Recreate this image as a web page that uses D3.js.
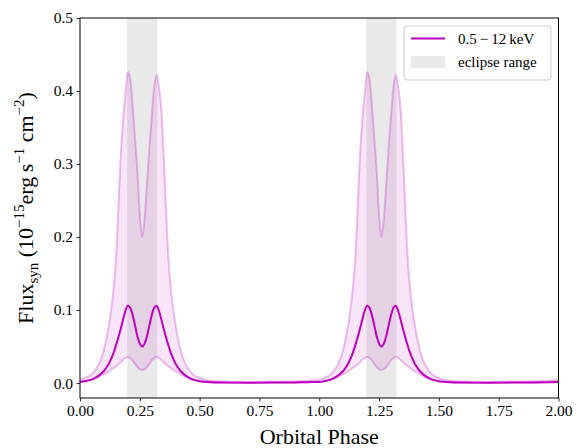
<!DOCTYPE html>
<html>
<head>
<meta charset="utf-8">
<script src="https://cdn.jsdelivr.net/npm/d3@7"></script>
<style>
  body { margin: 0; background: #fff; }
</style>
</head>
<body>
<div id="chart"></div>
<script>
// phase grid of one orbit (the light curve repeats every orbit)
var phase = [0, 0.02, 0.04, 0.06, 0.08, 0.09, 0.10, 0.11, 0.12, 0.13, 0.14, 0.15, 0.16, 0.17, 0.18, 0.19,
  0.20, 0.21, 0.22, 0.23, 0.24, 0.25, 0.26, 0.27, 0.28, 0.29, 0.30, 0.31, 0.32, 0.33, 0.34, 0.35, 0.36,
  0.37, 0.38, 0.39, 0.40, 0.41, 0.42, 0.43, 0.44, 0.46, 0.48, 0.50, 0.52, 0.55, 0.60, 0.70, 0.80, 0.90, 0.95];

// synthetic flux, 0.5-12 keV (1e-15 erg/s/cm2)
var fluxMid = [0.0015, 0.0025, 0.0040, 0.0065, 0.0105, 0.0135, 0.0165, 0.021, 0.026, 0.033, 0.041, 0.051, 0.062, 0.074, 0.087, 0.099,
  0.106, 0.103, 0.093, 0.079, 0.064, 0.054, 0.050, 0.054, 0.064, 0.079, 0.093, 0.103, 0.106, 0.099, 0.087, 0.074, 0.062,
  0.051, 0.041, 0.033, 0.026, 0.021, 0.0165, 0.0135, 0.0105, 0.0065, 0.0040, 0.0025, 0.0018, 0.0012, 0.0008, 0.0005, 0.0006, 0.0009, 0.0012];

var fluxHigh = [0.0045, 0.007, 0.010, 0.016, 0.027, 0.035, 0.046, 0.060, 0.078, 0.100, 0.128, 0.168, 0.235, 0.310, 0.360, 0.395,
  0.426, 0.416, 0.380, 0.335, 0.290, 0.230, 0.200, 0.225, 0.272, 0.322, 0.365, 0.405, 0.422, 0.405, 0.375, 0.310, 0.235,
  0.168, 0.128, 0.100, 0.078, 0.060, 0.046, 0.035, 0.027, 0.016, 0.010, 0.007, 0.0045, 0.0032, 0.0022, 0.0015, 0.0016, 0.0024, 0.0032];

var fluxLow = [0.0015, 0.0025, 0.0040, 0.0062, 0.0090, 0.0105, 0.0122, 0.0140, 0.0160, 0.0182, 0.0205, 0.0230, 0.0255, 0.0285, 0.0318, 0.0345,
  0.0358, 0.0345, 0.0310, 0.0265, 0.0220, 0.0190, 0.0178, 0.0190, 0.0220, 0.0265, 0.0310, 0.0345, 0.0358, 0.0345, 0.0318, 0.0285, 0.0255,
  0.0230, 0.0205, 0.0182, 0.0160, 0.0140, 0.0122, 0.0105, 0.0090, 0.0062, 0.0040, 0.0025, 0.0018, 0.0012, 0.0008, 0.0005, 0.0006, 0.0009, 0.0012];

var orbits = [0, 1];
var eclipses = [[0.197, 0.323], [1.197, 1.323]];
var xTicks = [0, 0.25, 0.5, 0.75, 1, 1.25, 1.5, 1.75, 2];
var yTicks = [0, 0.1, 0.2, 0.3, 0.4, 0.5];

var W = 582, H = 448;
var margin = { top: 18, right: 23.5, bottom: 50, left: 80 };
var width = W - margin.left - margin.right, height = H - margin.top - margin.bottom;
var color = "#bf00bf";
var serif = "Liberation Serif";

// unfold the orbits
var points = [];
orbits.forEach(function (o) {
  phase.forEach(function (p, i) {
    points.push({ x: o + p, mid: fluxMid[i], hi: fluxHigh[i], lo: fluxLow[i] });
  });
});
points.push({ x: 2, mid: fluxMid[0], hi: fluxHigh[0], lo: fluxLow[0] });

var svg = d3.select("#chart").append("svg")
  .attr("width", W).attr("height", H)
  .append("g")
  .attr("transform", "translate(" + margin.left + "," + margin.top + ")");

var x = d3.scaleLinear().domain([0, 2]).range([0, width]);
var y = d3.scaleLinear().domain([-0.0205, 0.5]).range([height, 0]);

svg.append("defs").append("clipPath").attr("id", "clip")
  .append("rect").attr("width", width).attr("height", height);
var plot = svg.append("g").attr("clip-path", "url(#clip)");

// eclipse bands
plot.selectAll(".ecl").data(eclipses).enter().append("rect")
  .attr("x", function (d) { return x(d[0]); })
  .attr("width", function (d) { return x(d[1]) - x(d[0]); })
  .attr("y", 0).attr("height", height)
  .attr("fill", "#d3d3d3").attr("opacity", 0.5);

var curve = d3.curveMonotoneX;

plot.append("path").datum(points)
  .attr("d", d3.area().curve(curve)
    .x(function (d) { return x(d.x); })
    .y0(function (d) { return y(d.lo); })
    .y1(function (d) { return y(d.hi); }))
  .attr("fill", color).attr("fill-opacity", 0.1);

function line(key) {
  return d3.line().curve(curve)
    .x(function (d) { return x(d.x); })
    .y(function (d) { return y(d[key]); });
}

["hi", "lo"].forEach(function (k) {
  plot.append("path").datum(points)
    .attr("d", line(k))
    .attr("fill", "none").attr("stroke", color)
    .attr("stroke-opacity", 0.25).attr("stroke-width", 2);
});

plot.append("path").datum(points)
  .attr("d", line("mid"))
  .attr("fill", "none").attr("stroke", color).attr("stroke-width", 2);

// axes
var xAxis = svg.append("g").attr("transform", "translate(0," + height + ")")
  .call(d3.axisBottom(x).tickValues(xTicks).tickFormat(d3.format(".2f")).tickSizeOuter(0).tickSize(3.5).tickPadding(3.5));
var yAxis = svg.append("g")
  .call(d3.axisLeft(y).tickValues(yTicks).tickFormat(d3.format(".1f")).tickSizeOuter(0).tickSize(3.5).tickPadding(3.5));
[xAxis, yAxis].forEach(function (a) {
  a.attr("font-family", serif).attr("font-size", 15.5);
  a.select(".domain").remove();
  a.selectAll("text").attr("font-family", serif).attr("font-size", 15.5).attr("fill", "#000");
  a.selectAll("line").attr("stroke", "#000").attr("stroke-width", 0.8);
});

svg.append("rect").attr("width", width).attr("height", height)
  .attr("fill", "none").attr("stroke", "#000").attr("stroke-width", 1);

// axis labels
svg.append("text")
  .attr("x", width / 2).attr("y", height + 46)
  .attr("text-anchor", "middle")
  .attr("font-family", serif).attr("font-size", 22)
  .text("Orbital Phase");

var yl = svg.append("text")
  .attr("transform", "translate(" + (-47) + "," + (height / 2) + ") rotate(-90)")
  .attr("text-anchor", "middle")
  .attr("font-family", serif).attr("font-size", 22);
yl.append("tspan").text("Flux");
yl.append("tspan").attr("dy", 5).attr("font-size", 15).text("syn");
yl.append("tspan").attr("dy", -5).text(" (10");
yl.append("tspan").attr("dy", -9).attr("font-size", 15).text("\u221215");
yl.append("tspan").attr("dy", 9).text("erg\u2009s");
yl.append("tspan").attr("dy", -9).attr("font-size", 15).text("\u22121");
yl.append("tspan").attr("dy", 9).text(" cm");
yl.append("tspan").attr("dy", -9).attr("font-size", 15).text("\u22122");
yl.append("tspan").attr("dy", 9).text(")");

// legend
var lg = svg.append("g").attr("transform", "translate(" + (404 - margin.left) + "," + (26 - margin.top) + ")");
lg.append("rect").attr("width", 147).attr("height", 54).attr("rx", 3)
  .attr("fill", "#fff").attr("fill-opacity", 0.8).attr("stroke", "#ccc").attr("stroke-width", 1);
lg.append("line").attr("x1", 7).attr("x2", 41).attr("y1", 12.5).attr("y2", 12.5)
  .attr("stroke", color).attr("stroke-width", 2);
lg.append("rect").attr("x", 7).attr("y", 30).attr("width", 34).attr("height", 12)
  .attr("fill", "#d3d3d3").attr("opacity", 0.5);
lg.append("text").attr("x", 54).attr("y", 18)
  .attr("font-family", serif).attr("font-size", 15)
  .text("0.5\u2009\u2212\u200912\u2009keV");
lg.append("text").attr("x", 54).attr("y", 41)
  .attr("font-family", serif).attr("font-size", 15)
  .text("eclipse range");
</script>
</body>
</html>
